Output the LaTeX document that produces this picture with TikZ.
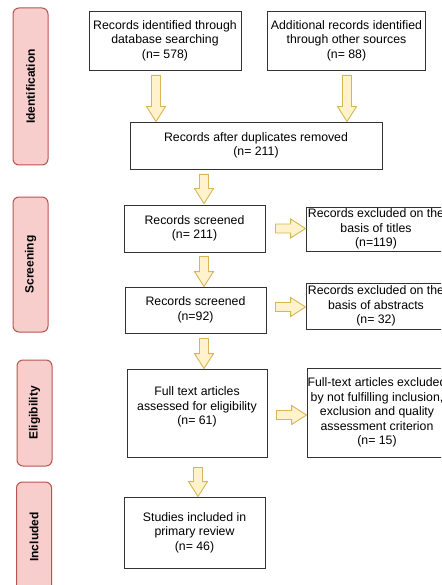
\documentclass[tikz,border=0pt]{standalone}
\usepackage{fontspec}
\setmainfont{Liberation Sans}
\usepackage{tikz}
\usetikzlibrary{calc}

\definecolor{stfill}{HTML}{F8CECC}
\definecolor{stdraw}{HTML}{B85450}
\definecolor{arfill}{HTML}{FFF2CC}
\definecolor{ardraw}{HTML}{D6B656}

\tikzset{
  box/.style={draw=black!80, line width=0.9pt, align=center,
    font=\fontsize{12.3}{14.5}\selectfont},
  exbox/.style={box, inner sep=0pt, minimum width=140},
  stage/.style={draw=stdraw, fill=stfill, line width=1pt, rounded corners=6pt,
    minimum height=35, rotate=90, font=\bfseries\fontsize{12}{14}\selectfont},
  blockarrow/.style={draw=ardraw, fill=arfill, line width=0.9pt, line join=miter}
}

% hollow block arrow from #1 to #2
\newcommand{\blockarrow}[2]{%
  \coordinate (ba-s) at (#1);
  \coordinate (ba-e) at (#2);
  \coordinate (ba-h) at ($(ba-e)!15pt!(ba-s)$);
  \draw[blockarrow] ($(ba-s)!4.5pt!-90:(ba-e)$) -- ($(ba-h)!4.5pt!-90:(ba-e)$)
    -- ($(ba-h)!9.5pt!-90:(ba-e)$) -- (ba-e) -- ($(ba-h)!9.5pt!90:(ba-e)$)
    -- ($(ba-h)!4.5pt!90:(ba-e)$) -- ($(ba-s)!4.5pt!90:(ba-e)$) -- cycle;
}

\begin{document}
\begin{tikzpicture}[x=1pt,y=-1pt]
  \useasboundingbox (0,0) rectangle (441,585);
  \clip (0,0) rectangle (441,585);

  % stages
  \node[stage, minimum width=157] (st-ident)  at (30.5,86.5) {Identification};
  \node[stage, minimum width=135] (st-screen) at (30.5,264.5) {Screening};
  \node[stage, minimum width=106] (st-elig)   at (34.5,413) {Eligibility};
  \node[stage, minimum width=110] (st-incl)   at (34,537) {Included};

  % flow boxes
  \node[box, minimum width=152, minimum height=59] (dbrec) at (165,40.5)
    {Records identified through\\database searching\\(n= 578)};
  \node[box, minimum width=153, minimum height=59] (othrec) at (346.5,40.5)
    {Additional records identified\\through other sources\\(n= 88)};
  \node[box, minimum width=252, minimum height=47] (nodup) at (256,145.5)
    {Records after duplicates removed\\(n= 211)};
  \node[box, minimum width=141, minimum height=47] (scrtitle) at (194.5,228.5)
    {Records screened\\(n= 211)};
  \node[exbox, minimum height=44] (exctitle) at (376,229)
    {Records excluded on the\\basis of titles\\(n=119)};
  \node[box, minimum width=141, minimum height=46] (scrabs) at (195.5,310)
    {Records screened\\(n=92)};
  \node[exbox, minimum height=46] (excabs) at (376,306)
    {Records excluded on the\\basis of abstracts\\(n= 32)};
  \node[box, minimum width=140, minimum height=88] (fulltext) at (197,413)
    {Full text articles\\assessed for eligibility\\(n= 61)\\\mbox{}};
  \node[exbox, minimum height=89] (excfull) at (377,412.5)
    {Full-text articles excluded\\by not fulfilling inclusion,\\exclusion and quality\\assessment criterion\\(n= 15)};
  \node[box, minimum width=141, minimum height=71] (included) at (194.5,532.5)
    {Studies included in\\primary review\\(n= 46)};

  % arrows
  \blockarrow{$(dbrec.south)+(-9,5)$}{$(dbrec.south |- nodup.north)+(-9,0)$}
  \blockarrow{$(othrec.south)+(0.5,5)$}{$(othrec.south |- nodup.north)+(0.5,0)$}
  \blockarrow{$(scrtitle.north |- nodup.south)+(9.5,5)$}{$(scrtitle.north)+(9.5,-1)$}
  \blockarrow{$(scrtitle.east)+(10,0)$}{$(scrtitle.east -| exctitle.west)$}
  \blockarrow{$(scrtitle.south)+(9.5,4)$}{$(scrtitle.south |- scrabs.north)+(9.5,0)$}
  \blockarrow{$(scrabs.east)+(9,-3)$}{$(scrabs.east -| excabs.west)+(0,-3)$}
  \blockarrow{$(scrabs.south)+(8.5,5)$}{$(scrabs.south |- fulltext.north)+(8.5,0)$}
  \blockarrow{$(fulltext.east)+(9,2)$}{$(fulltext.east -| excfull.west)+(0,2)$}
  \blockarrow{$(fulltext.south)+(1,10)$}{$(fulltext.south |- included.north)+(1,0)$}
\end{tikzpicture}
\end{document}
